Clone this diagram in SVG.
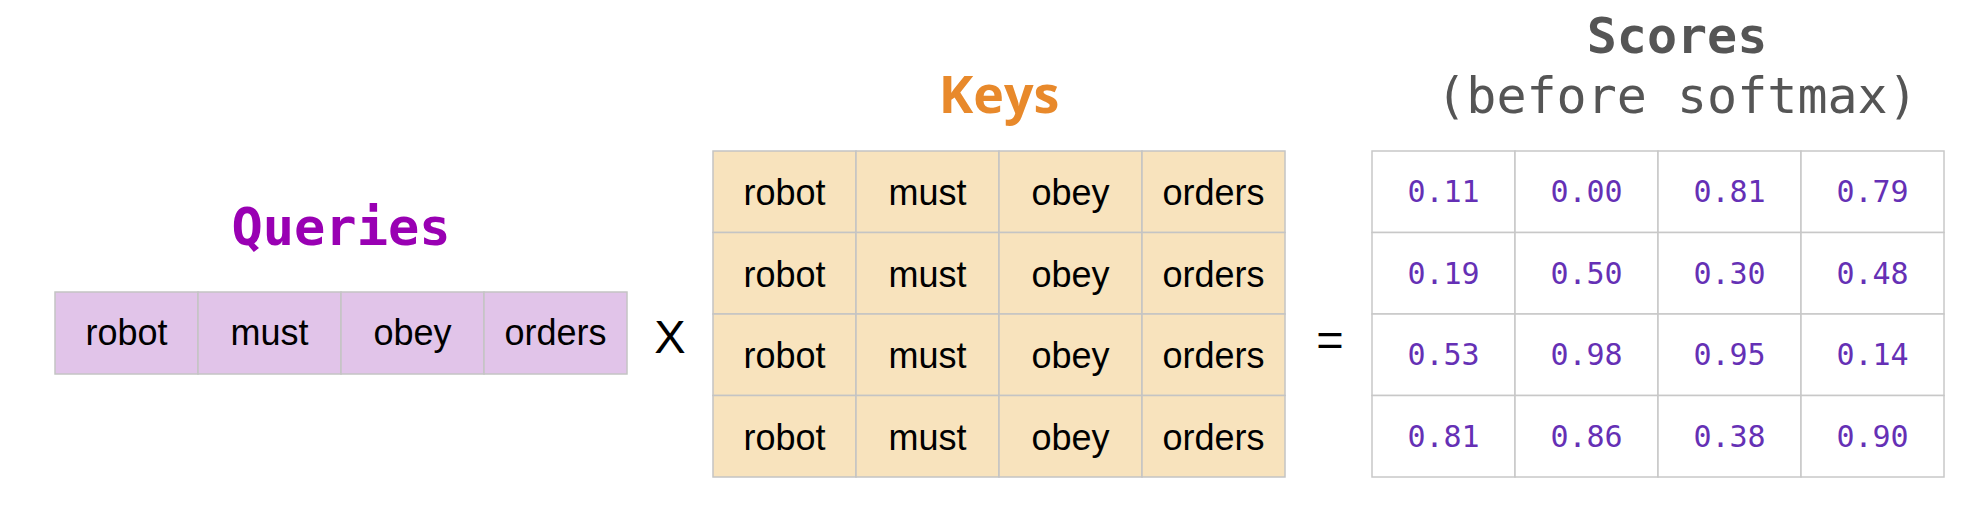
<svg xmlns="http://www.w3.org/2000/svg" width="1968" height="528" viewBox="0 0 1968 528">
<style>
.q{fill:#e1c4e9;stroke:#c4c4c4;stroke-width:1.5}
.k{fill:#f8e3bd;stroke:#c4c4c4;stroke-width:1.5}
.s{fill:#ffffff;stroke:#c8c8c8;stroke-width:1.5}
.w{font-family:"Liberation Sans",Arial,sans-serif;font-size:36px;fill:#000;text-anchor:middle}
.n{font-family:"DejaVu Sans Mono","Liberation Mono",monospace;font-size:30px;fill:#6530b5;text-anchor:middle}
.op{font-family:"Liberation Sans",Arial,sans-serif;font-size:47px;fill:#000;text-anchor:middle}
</style>
<rect width="1968" height="528" fill="#ffffff"/>
<g id="queries">
<text x="341" y="245" font-family="DejaVu Sans Mono,monospace" font-weight="bold" font-size="52" fill="#9900b3" text-anchor="middle">Queries</text>
<rect class="q" x="55" y="292" width="143" height="82"/>
<rect class="q" x="198" y="292" width="143" height="82"/>
<rect class="q" x="341" y="292" width="143" height="82"/>
<rect class="q" x="484" y="292" width="143" height="82"/>
<text class="w" x="126.5" y="345">robot</text>
<text class="w" x="269.5" y="345">must</text>
<text class="w" x="412.5" y="345">obey</text>
<text class="w" x="555.5" y="345">orders</text>
</g>
<g id="times"><text class="op" x="670" y="353">X</text></g>
<g id="keys">
<text x="999" y="113" font-family="Open Sans,sans-serif" font-weight="bold" font-size="52" fill="#e8892b" text-anchor="middle">Keys</text>
<g>
<rect class="k" x="713" y="151" width="143" height="81.5"/><rect class="k" x="856" y="151" width="143" height="81.5"/><rect class="k" x="999" y="151" width="143" height="81.5"/><rect class="k" x="1142" y="151" width="143" height="81.5"/>
<rect class="k" x="713" y="232.5" width="143" height="81.5"/><rect class="k" x="856" y="232.5" width="143" height="81.5"/><rect class="k" x="999" y="232.5" width="143" height="81.5"/><rect class="k" x="1142" y="232.5" width="143" height="81.5"/>
<rect class="k" x="713" y="314" width="143" height="81.5"/><rect class="k" x="856" y="314" width="143" height="81.5"/><rect class="k" x="999" y="314" width="143" height="81.5"/><rect class="k" x="1142" y="314" width="143" height="81.5"/>
<rect class="k" x="713" y="395.5" width="143" height="81.5"/><rect class="k" x="856" y="395.5" width="143" height="81.5"/><rect class="k" x="999" y="395.5" width="143" height="81.5"/><rect class="k" x="1142" y="395.5" width="143" height="81.5"/>
</g>
<text class="w" x="784.5" y="205">robot</text><text class="w" x="927.5" y="205">must</text><text class="w" x="1070.5" y="205">obey</text><text class="w" x="1213.5" y="205">orders</text>
<text class="w" x="784.5" y="286.5">robot</text><text class="w" x="927.5" y="286.5">must</text><text class="w" x="1070.5" y="286.5">obey</text><text class="w" x="1213.5" y="286.5">orders</text>
<text class="w" x="784.5" y="368">robot</text><text class="w" x="927.5" y="368">must</text><text class="w" x="1070.5" y="368">obey</text><text class="w" x="1213.5" y="368">orders</text>
<text class="w" x="784.5" y="449.5">robot</text><text class="w" x="927.5" y="449.5">must</text><text class="w" x="1070.5" y="449.5">obey</text><text class="w" x="1213.5" y="449.5">orders</text>
</g>
<g id="equals"><text class="op" x="1330" y="356">=</text></g>
<g id="scores">
<text x="1677" y="53" font-family="DejaVu Sans Mono,monospace" font-weight="bold" font-size="50" fill="#555555" text-anchor="middle">Scores</text>
<text x="1677" y="113" font-family="DejaVu Sans Mono,monospace" font-size="50" fill="#555555" text-anchor="middle">(before softmax)</text>
<g>
<rect class="s" x="1372" y="151" width="143" height="81.5"/><rect class="s" x="1515" y="151" width="143" height="81.5"/><rect class="s" x="1658" y="151" width="143" height="81.5"/><rect class="s" x="1801" y="151" width="143" height="81.5"/>
<rect class="s" x="1372" y="232.5" width="143" height="81.5"/><rect class="s" x="1515" y="232.5" width="143" height="81.5"/><rect class="s" x="1658" y="232.5" width="143" height="81.5"/><rect class="s" x="1801" y="232.5" width="143" height="81.5"/>
<rect class="s" x="1372" y="314" width="143" height="81.5"/><rect class="s" x="1515" y="314" width="143" height="81.5"/><rect class="s" x="1658" y="314" width="143" height="81.5"/><rect class="s" x="1801" y="314" width="143" height="81.5"/>
<rect class="s" x="1372" y="395.5" width="143" height="81.5"/><rect class="s" x="1515" y="395.5" width="143" height="81.5"/><rect class="s" x="1658" y="395.5" width="143" height="81.5"/><rect class="s" x="1801" y="395.5" width="143" height="81.5"/>
</g>
<text class="n" x="1443.5" y="202">0.11</text><text class="n" x="1586.5" y="202">0.00</text><text class="n" x="1729.5" y="202">0.81</text><text class="n" x="1872.5" y="202">0.79</text>
<text class="n" x="1443.5" y="283.5">0.19</text><text class="n" x="1586.5" y="283.5">0.50</text><text class="n" x="1729.5" y="283.5">0.30</text><text class="n" x="1872.5" y="283.5">0.48</text>
<text class="n" x="1443.5" y="365">0.53</text><text class="n" x="1586.5" y="365">0.98</text><text class="n" x="1729.5" y="365">0.95</text><text class="n" x="1872.5" y="365">0.14</text>
<text class="n" x="1443.5" y="446.5">0.81</text><text class="n" x="1586.5" y="446.5">0.86</text><text class="n" x="1729.5" y="446.5">0.38</text><text class="n" x="1872.5" y="446.5">0.90</text>
</g>
</svg>
